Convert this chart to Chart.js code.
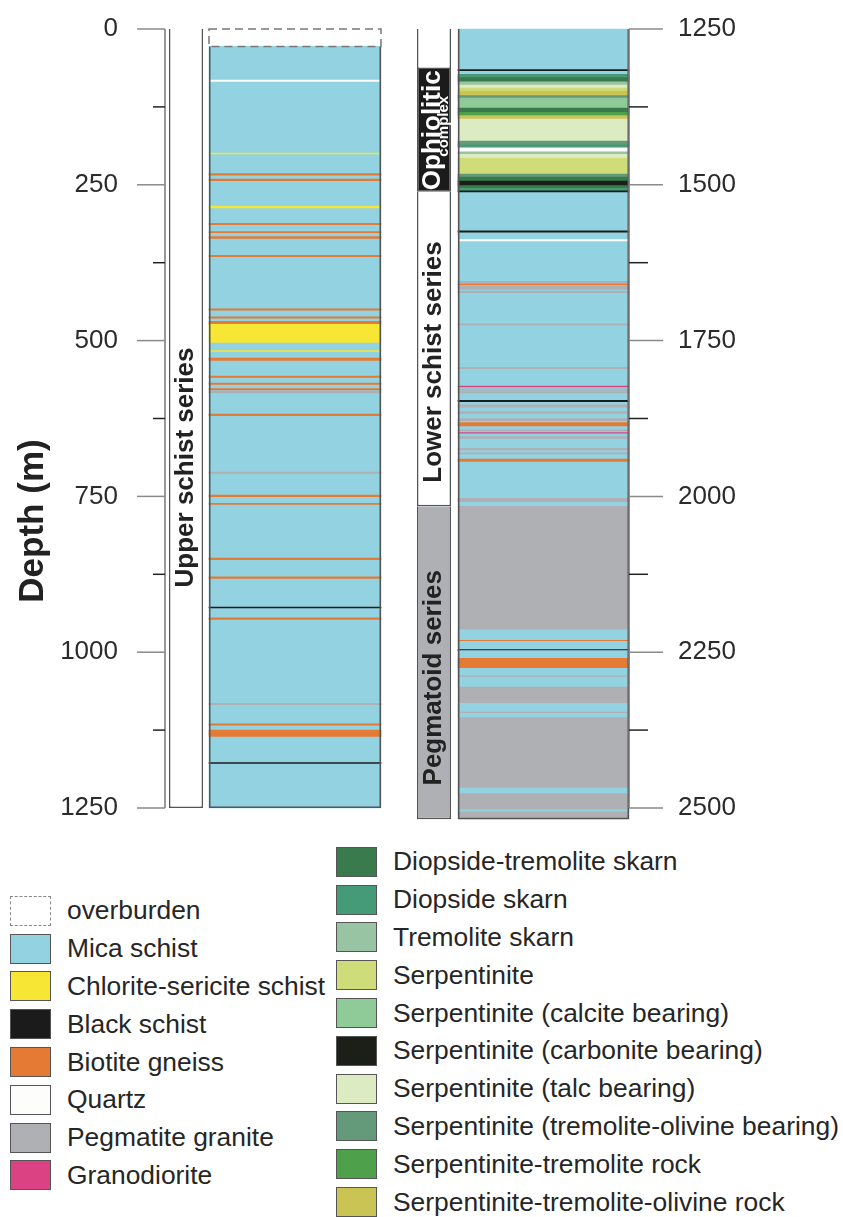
<!DOCTYPE html>
<html>
<head>
<meta charset="utf-8">
<script src="https://cdn.jsdelivr.net/npm/chart.js@4.4.1/dist/chart.umd.min.js"></script>
<style>
  html, body { margin: 0; padding: 0; background: #fff; }
  body { width: 843px; height: 1217px; position: relative; overflow: hidden;
         font-family: "Liberation Sans", Arial, Helvetica, sans-serif; color: #262626; }
  canvas { position: absolute; top: 0; }
  #upperCol { left: 0; }
  #lowerCol { left: 400px; }
  .legend { position: absolute; }
  .row { display: flex; align-items: center; height: 37.8px; font-size: 26.4px; white-space: nowrap; }
  .swatch { width: 39px; height: 28px; border: 1.5px solid #555; margin-right: 16px; flex: none; }
  .swatch.dashed { border: 1.5px dashed #888; }
</style>
</head>
<body>
<canvas id="upperCol" width="390" height="840"></canvas>
<canvas id="lowerCol" width="443" height="840"></canvas>
<div class="legend" id="legendLeft" style="left:10px; top:892px;"></div>
<div class="legend" id="legendRight" style="left:336px; top:843px;"></div>

<script>
// ------------------------- DATA -------------------------
// legend entries (key, label) in the order of the figure
const legendLeftKeys = ['ob', 'mica', 'chl', 'blk', 'bio', 'qtz', 'peg', 'gdi'];
const legendLeftNames = ['overburden', 'Mica schist', 'Chlorite-sericite schist', 'Black schist',
  'Biotite gneiss', 'Quartz', 'Pegmatite granite', 'Granodiorite'];
const legendRightKeys = ['dts', 'dis', 'trs', 'srp', 'srpCal', 'srpCarb', 'srpTalc', 'srpTO', 'srTr', 'srTrO'];
const legendRightNames = ['Diopside-tremolite skarn', 'Diopside skarn', 'Tremolite skarn', 'Serpentinite',
  'Serpentinite (calcite bearing)', 'Serpentinite (carbonite bearing)', 'Serpentinite (talc bearing)',
  'Serpentinite (tremolite-olivine bearing)', 'Serpentinite-tremolite rock', 'Serpentinite-tremolite-olivine rock'];

// series column: [top m, bottom m, name]
const upperSeries = [[0, 1250, 'Upper schist series']];
const lowerSeries = [[1250, 1314, ''], [1314, 1511, 'Ophiolitic'],
  [1511, 2016, 'Lower schist series'], [2016, 2518, 'Pegmatoid series']];

// lithology column: [top m, bottom m, rock] - later rows sit on top of earlier ones
const upperLayers = [
  [0, 28, 'ob'], [28, 1250, 'mica'],
  [82, 84, 'qtz'], [199, 200.5, 'chl'], [232, 234.5, 'bio'], [241, 243.5, 'bio'],
  [284, 287, 'chl'], [312, 314, 'bio'], [325, 327, 'bio'], [333, 336, 'bio'], [363, 365.5, 'bio'],
  [449, 451, 'bio'], [462, 464, 'bio'], [469, 474, 'bio'], [474, 503, 'chl'], [516, 517.5, 'chl'],
  [528, 532, 'bio'], [557, 559, 'bio'], [568, 570.5, 'bio'], [577, 579, 'bio'], [581, 584, 'peg'],
  [618, 620.5, 'bio'], [711, 713, 'peg'], [748, 750.5, 'bio'], [761, 763, 'bio'],
  [849, 851.5, 'bio'], [879, 881.5, 'bio'], [927.5, 929, 'blk'], [945, 947.5, 'bio'],
  [1082, 1084, 'peg'], [1115, 1117, 'bio'], [1125, 1135, 'bio'], [1177, 1178.5, 'blk']
];
const lowerLayers = [
  [1250, 2016, 'mica'], [2016, 2518, 'peg'],
  // ophiolitic complex
  [1315, 1317, 'blk'], [1322.7, 1328, 'dis'], [1328, 1334.6, 'dts'], [1334.6, 1340, 'trs'],
  [1340, 1344.7, 'srpTalc'], [1344.7, 1349.5, 'srp'], [1349.5, 1357, 'srTrO'], [1357, 1361, 'srpTO'],
  [1361, 1377, 'srpCal'], [1377, 1383.6, 'dts'], [1383.6, 1389, 'srTr'], [1389, 1394.4, 'srTrO'],
  [1394.4, 1429.7, 'srpTalc'], [1429.7, 1436, 'srpTO'], [1436, 1440.5, 'dis'], [1440.5, 1447, 'qtz'],
  [1447, 1451, 'trs'], [1451, 1457.5, 'srpTalc'], [1457.5, 1483, 'srp'], [1483, 1487.5, 'srpTO'],
  [1487.5, 1494, 'dts'], [1494, 1501.4, 'srpCarb'], [1501.4, 1505.6, 'dts'], [1505.6, 1509.5, 'dis'],
  [1509.5, 1511.5, 'blk'],
  // lower schist series
  [1574, 1576, 'blk'], [1588, 1590, 'qtz'], [1655, 1657, 'peg'], [1659, 1660.5, 'bio'],
  [1663, 1668, 'peg'], [1671, 1673, 'peg'], [1723, 1725, 'peg'], [1793, 1795, 'peg'],
  [1823, 1824.5, 'gdi'], [1828, 1830, 'peg'], [1832, 1834, 'peg'], [1846, 1848, 'blk'],
  [1853, 1857, 'peg'], [1864, 1867, 'peg'], [1875, 1878.5, 'peg'], [1881.7, 1887, 'bio'],
  [1893, 1895, 'peg'], [1897.5, 1898.5, 'gdi'], [1904, 1907, 'peg'], [1923, 1925.6, 'peg'],
  [1930, 1932, 'peg'], [1940, 1944, 'bio'], [2003, 2008.5, 'peg'],
  // pegmatoid series
  [2214, 2230, 'mica'], [2231, 2232.5, 'bio'], [2232.5, 2246, 'mica'], [2246, 2247.5, 'blk'],
  [2247.5, 2260, 'mica'], [2260, 2276, 'bio'], [2276, 2287, 'mica'], [2290, 2305, 'mica'],
  [2332, 2345, 'mica'], [2348, 2354, 'mica'], [2468, 2476, 'mica'], [2503, 2505, 'mica']
];

// ------------------------- STYLE -------------------------
const rockColor = {
  ob: 'rgba(0,0,0,0)', mica: '#93d2e1', chl: '#f7e633', blk: '#1b1b1b', bio: '#e57a35',
  qtz: '#fdfdfb', peg: '#aeb0b3', gdi: '#db4284',
  dts: '#3a7b4e', dis: '#459b78', trs: '#98c4a4', srp: '#cfdc7a', srpCal: '#8fcb98',
  srpCarb: '#1c1e18', srpTalc: '#ddebc3', srpTO: '#64997a', srTr: '#4ea14a', srTrO: '#cac455'
};
const seriesColor = {
  '': '#ffffff', 'Upper schist series': '#ffffff', 'Ophiolitic': '#1b1b1b',
  'Lower schist series': '#ffffff', 'Pegmatoid series': '#aeb0b3'
};
const seriesShift = { 'Upper schist series': 49, 'Lower schist series': 13, 'Pegmatoid series': 15 };
const FONT = '"Liberation Sans", Arial, Helvetica, sans-serif';
const LINE = '#555';

// ------------------------- PLUGINS -------------------------
// depth axis line + long (labelled) and short ticks
const depthTicks = {
  id: 'depthTicks',
  afterDraw(chart, args, opts) {
    const ys = chart.scales.y, ctx = chart.ctx, a = chart.chartArea;
    const onRight = ys.position === 'right';
    const x0 = onRight ? a.right : a.left;
    const dir = onRight ? 1 : -1;
    const ticks = ys.ticks;
    ctx.save();
    ctx.lineWidth = 1.5;
    ctx.strokeStyle = '#777';
    ctx.beginPath();
    ctx.moveTo(x0, ys.getPixelForValue(ticks[0].value));
    ctx.lineTo(x0, ys.getPixelForValue(ticks[ticks.length - 1].value));
    ctx.stroke();
    ticks.forEach(t => {
      const major = t.value % 250 === 0;
      const y = ys.getPixelForValue(t.value);
      ctx.strokeStyle = major ? '#8a8a8a' : '#222';
      ctx.beginPath();
      ctx.moveTo(x0, y);
      ctx.lineTo(x0 + dir * (major ? opts.major : opts.minor), y);
      ctx.stroke();
    });
    if (opts.title) {
      ctx.translate(opts.titleX, opts.titleY);
      ctx.rotate(-Math.PI / 2);
      ctx.font = 'bold 35px ' + FONT;
      ctx.fillStyle = '#222';
      ctx.textAlign = 'center';
      ctx.textBaseline = 'middle';
      ctx.fillText(opts.title, 0, 0);
    }
    ctx.restore();
  }
};

// rotated series names + dashed overburden box
const columnText = {
  id: 'columnText',
  afterDatasetsDraw(chart, args, opts) {
    const ctx = chart.ctx;
    const sMeta = chart.getDatasetMeta(1);
    sMeta.data.forEach((el, i) => {
      const name = opts.names[i];
      if (!name) return;
      const cx = el.x, cy = (el.y + el.base) / 2 + (seriesShift[name] || 0);
      ctx.save();
      ctx.translate(cx, cy);
      ctx.rotate(-Math.PI / 2);
      ctx.textAlign = 'center';
      if (name === 'Ophiolitic') {
        ctx.fillStyle = '#fff';
        ctx.textBaseline = 'alphabetic';
        ctx.font = 'bold 26px ' + FONT;
        ctx.fillText(name, 0, 6);
        ctx.font = 'bold 15px ' + FONT;
        ctx.fillText('complex', 4, 14);
      } else {
        ctx.fillStyle = '#222';
        ctx.textBaseline = 'middle';
        ctx.font = 'bold 26px ' + FONT;
        ctx.fillText(name, 0, 0);
      }
      ctx.restore();
    });
    const lMeta = chart.getDatasetMeta(2);
    lMeta.data.forEach((el, i) => {
      if (opts.rocks[i] !== 'ob') return;
      const w = el.width;
      ctx.save();
      ctx.setLineDash([8, 5]);
      ctx.lineWidth = 1.5;
      ctx.strokeStyle = '#777';
      ctx.strokeRect(el.x - w / 2, Math.min(el.y, el.base), w, Math.abs(el.base - el.y));
      ctx.restore();
    });
  }
};

// ------------------------- CHARTS -------------------------
function makeColumn(id, series, layers, o) {
  const body = layers.filter(l => l[2] !== 'ob');
  const top = Math.min(...body.map(l => l[0]));
  const bottom = Math.max(...body.map(l => l[1]));
  return new Chart(document.getElementById(id), {
    type: 'bar',
    data: {
      datasets: [
        { // outline of the lithology column
          data: [{ x: 1, y: [top, bottom] }],
          backgroundColor: 'rgba(0,0,0,0)', borderColor: LINE, borderWidth: 1.5,
          barThickness: o.lithoWidth, grouped: false, clip: false, inflateAmount: 0
        },
        { // series column
          data: series.map(s => ({ x: 0, y: [s[0], s[1]] })),
          backgroundColor: series.map(s => seriesColor[s[2]]),
          borderColor: LINE, borderWidth: 1.5,
          barThickness: 34, grouped: false, clip: false, inflateAmount: 0
        },
        { // lithology layers
          data: layers.map(l => ({ x: 1, y: [l[0], l[1]] })),
          backgroundColor: layers.map(l => rockColor[l[2]]),
          borderWidth: 0, barThickness: o.lithoWidth, grouped: false, clip: false
        }
      ]
    },
    options: {
      responsive: false,
      animation: false,
      events: [],
      layout: { padding: { top: 29, bottom: o.padBottom, left: 0, right: 0 } },
      plugins: {
        legend: { display: false },
        tooltip: { enabled: false },
        depthTicks: { major: o.major, minor: o.minor, title: o.title, titleX: 33, titleY: 521 },
        columnText: { names: series.map(s => s[2]), rocks: layers.map(l => l[2]) }
      },
      scales: {
        x: { type: 'linear', offset: false, min: o.xMin, max: o.xMax, display: false },
        y: {
          type: 'linear', position: o.side, reverse: true, min: o.min, max: o.max,
          // grid hidden; tickLength only pushes the labels away from the axis
          grid: { display: false, drawTicks: true, tickLength: o.labelGap },
          border: { display: false },
          ticks: {
            stepSize: 125, autoSkip: false, includeBounds: false, padding: 3,
            color: '#2b2b2b', font: { family: FONT, size: 26 },
            callback: v => (v % 250 === 0 ? String(v) : '')
          },
          afterFit: s => { s.width = o.axisWidth; }
        }
      }
    },
    plugins: [depthTicks, columnText]
  });
}

window.onload = () => {
  makeColumn('upperCol', upperSeries, upperLayers, {
    side: 'left', min: 0, max: 1250, axisWidth: 165, padBottom: 32,
    xMin: -0.1927, xMax: 1.8716, lithoWidth: 172, labelGap: 44,
    major: 28, minor: 12, title: 'Depth (m)'
  });
  makeColumn('lowerCol', lowerSeries, lowerLayers, {
    side: 'right', min: 1250, max: 2518, axisWidth: 214, padBottom: 20.8,
    xMin: -0.3105, xMax: 1.7808, lithoWidth: 171, labelGap: 46,
    major: 34, minor: 19, title: ''
  });

  // legend boxes built from the same rock table
  const fill = (el, keys, names) => {
    keys.forEach((k, i) => {
      const row = document.createElement('div');
      row.className = 'row';
      const sw = document.createElement('span');
      sw.className = 'swatch' + (k === 'ob' ? ' dashed' : '');
      sw.style.background = k === 'ob' ? 'transparent' : rockColor[k];
      const tx = document.createElement('span');
      tx.textContent = names[i];
      row.appendChild(sw);
      row.appendChild(tx);
      el.appendChild(row);
    });
  };
  fill(document.getElementById('legendLeft'), legendLeftKeys, legendLeftNames);
  fill(document.getElementById('legendRight'), legendRightKeys, legendRightNames);
};
</script>
</body>
</html>
